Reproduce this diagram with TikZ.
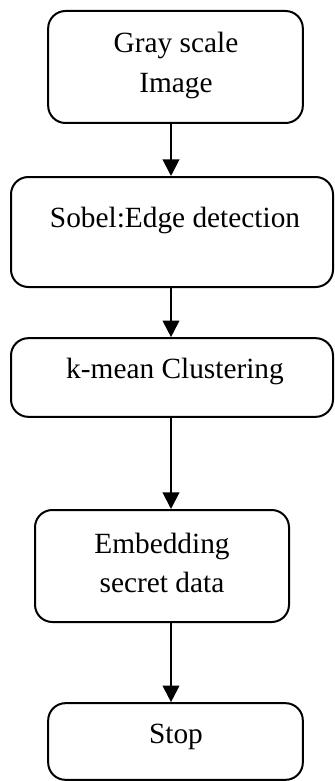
\documentclass[tikz,border=0pt]{standalone}
\usepackage{fontspec}
\setmainfont{Liberation Serif}
\usetikzlibrary{arrows.meta}
\begin{document}
\begin{tikzpicture}[x=0.75pt,y=-0.75pt,
  stage/.style={draw, rounded corners=13pt, line width=1.5pt, inner sep=0pt},
  lbl/.style={font=\fontsize{22}{26}\selectfont, anchor=base, inner sep=0pt},
  flow/.style={-{Triangle[length=12.5pt,width=12.5pt]}, line width=1.5pt}]
\useasboundingbox (0,0) rectangle (335,781);

% process stages
\node[stage, minimum width=191pt, minimum height=84pt]   (gray)  at (175.5,67)  {};
\node[stage, minimum width=241.5pt, minimum height=82.5pt] (sobel) at (172,232) {};
\node[stage, minimum width=241.5pt, minimum height=59pt] (kmean) at (172,377.5) {};
\node[stage, minimum width=190.5pt, minimum height=84pt] (embed) at (162,566) {};
\node[stage, minimum width=191pt, minimum height=57.5pt] (stop)  at (175.5,741.5) {};

% stage captions
\node[lbl] (grayA)  at (176,53)  {Gray scale};
\node[lbl] (grayB)  at (176,93)  {Image};
\node[lbl] (sobelT) at (175,227) {Sobel:Edge detection};
\node[lbl] (kmeanT) at (175,378) {k-mean Clustering};
\node[lbl] (embedA) at (162,553) {Embedding};
\node[lbl] (embedB) at (162,592) {secret data};
\node[lbl] (stopT)  at (176,743) {Stop};

% vertical flow line
\coordinate (axis) at (171,0);
\draw[flow] (gray.south -| axis)  -- (sobel.north -| axis);
\draw[flow] (sobel.south -| axis) -- (kmean.north -| axis);
\draw[flow] (kmean.south -| axis) -- (embed.north -| axis);
\draw[flow] (embed.south -| axis) -- (stop.north -| axis);
\end{tikzpicture}
\end{document}
